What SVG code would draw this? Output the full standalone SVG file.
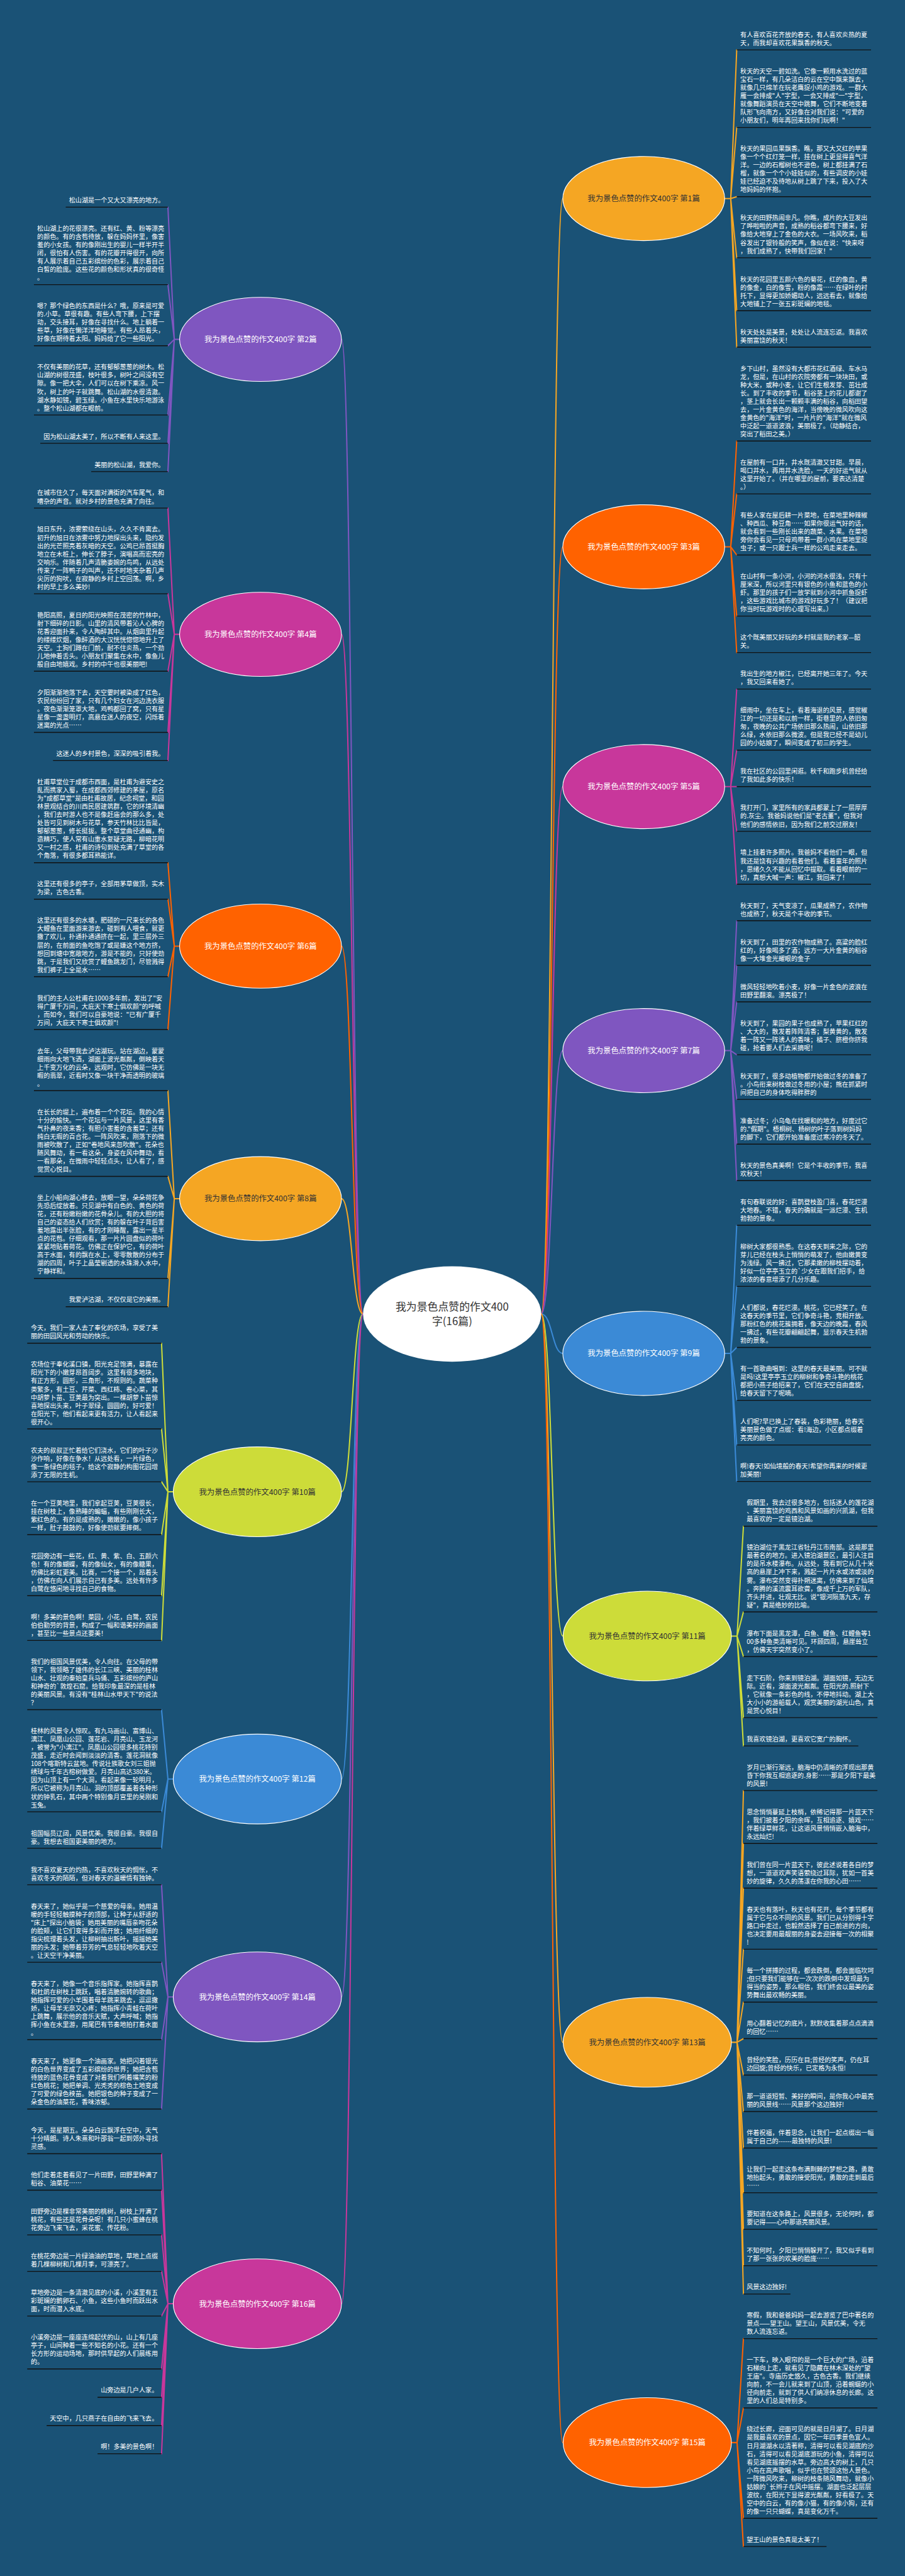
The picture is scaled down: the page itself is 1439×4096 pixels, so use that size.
<svg xmlns="http://www.w3.org/2000/svg" width="1439" height="4096" viewBox="0 0 1439 4096">
<style>
.t{font-family:"Noto Sans CJK SC","Noto Sans",sans-serif;font-size:18px;fill:#fff}
.r{text-anchor:end}
.u{stroke:#111;stroke-width:2.5}
.lb{font-family:"Noto Sans CJK SC","Noto Sans",sans-serif;font-size:22px;text-anchor:middle}
.w{fill:#fff}.d{fill:#333}
.c{fill:none;stroke-width:3.6;stroke-linecap:round;stroke-linejoin:round}
.am{stroke:#F5A623}.or{stroke:#FF6200}.mg{stroke:#C8379B}.pu{stroke:#7F56C0}.bl{stroke:#3B8AD6}.li{stroke:#CDDC39}
.fam{fill:#F5A623}.for{fill:#FF6200}.fmg{fill:#C8379B}.fpu{fill:#7F56C0}.fbl{fill:#3B8AD6}.fli{fill:#CDDC39}
.e{stroke:#fff;stroke-width:2}
</style>
<rect width="1439" height="4096" fill="#1a5276"/>
<g transform="scale(0.5621)">
<g id="connectors">
<path class="c am" d="M1531 3717C1562 3717 1562 561.6 1592 561.6"/>
<path class="c or" d="M1531 3717C1562 3717 1562 1546.8 1592 1546.8"/>
<path class="c mg" d="M1531 3717C1562 3717 1562 2225.2 1592 2225.2"/>
<path class="c pu" d="M1531 3717C1562 3717 1562 2972 1592 2972"/>
<path class="c bl" d="M1531 3717C1562 3717 1562 3828.4 1592 3828.4"/>
<path class="c li" d="M1531 3717C1562 3717 1562 4628 1592 4628"/>
<path class="c am" d="M1531 3717C1562 3717 1562 5777.2 1592 5777.2"/>
<path class="c or" d="M1531 3717C1562 3717 1562 6909.6 1592 6909.6"/>
<path class="c pu" d="M1027 3717C996 3717 996 960 966 960"/>
<path class="c mg" d="M1027 3717C996 3717 996 1794.4 966 1794.4"/>
<path class="c or" d="M1027 3717C996 3717 996 2676.4 966 2676.4"/>
<path class="c am" d="M1027 3717C996 3717 996 3390.8 966 3390.8"/>
<path class="c li" d="M1027 3717C996 3717 996 4220 966 4220"/>
<path class="c bl" d="M1027 3717C996 3717 996 5032.4 966 5032.4"/>
<path class="c pu" d="M1027 3717C996 3717 996 5648.8 966 5648.8"/>
<path class="c mg" d="M1027 3717C996 3717 996 6516.8 966 6516.8"/>
<path class="c am" d="M2050 561.6H2067M2067 561.6L2084 141.2M2067 561.6L2084 360.4M2067 561.6L2084 556.4M2067 561.6L2084 729.2M2067 561.6L2084 878.8M2067 561.6L2084 982"/>
<path class="c or" d="M2050 1546.8H2067M2067 1546.8L2084 1247.6M2067 1546.8L2084 1397.2M2067 1546.8L2084 1570M2067 1546.8L2084 1742.8M2067 1546.8L2084 1846"/>
<path class="c mg" d="M2050 2225.2H2067M2067 2225.2L2084 1949.2M2067 2225.2L2084 2122M2067 2225.2L2084 2225.2M2067 2225.2L2084 2351.6M2067 2225.2L2084 2501.2"/>
<path class="c pu" d="M2050 2972H2067M2067 2972L2084 2604.4M2067 2972L2084 2730.8M2067 2972L2084 2834M2067 2972L2084 2983.6M2067 2972L2084 3110M2067 2972L2084 3236.4M2067 2972L2084 3339.6"/>
<path class="c bl" d="M2050 3828.4H2067M2067 3828.4L2084 3466M2067 3828.4L2084 3638.8M2067 3828.4L2084 3811.6M2067 3828.4L2084 3961.2M2067 3828.4L2084 4087.6M2067 3828.4L2084 4190.8"/>
<path class="c li" d="M2069 4628H2085M2085 4628L2103 4317.2M2085 4628L2103 4559.6M2085 4628L2103 4686M2085 4628L2103 4858.8M2085 4628L2103 4938.8"/>
<path class="c am" d="M2069 5777.2H2085M2085 5777.2L2103 5065.2M2085 5777.2L2103 5214.8M2085 5777.2L2103 5341.2M2085 5777.2L2103 5514M2085 5777.2L2103 5663.6M2085 5777.2L2103 5766.8M2085 5777.2L2103 5870M2085 5777.2L2103 5973.2M2085 5777.2L2103 6076.4M2085 5777.2L2103 6202.8M2085 5777.2L2103 6306M2085 5777.2L2103 6409.2M2085 5777.2L2103 6489.2"/>
<path class="c or" d="M2069 6909.6H2085M2085 6909.6L2103 6615.6M2085 6909.6L2103 6811.6M2085 6909.6L2103 7123.6M2085 6909.6L2103 7203.6"/>
<path class="c pu" d="M508 960H493M493 960L475 586M493 960L475 805.2M493 960L475 978M493 960L475 1174M493 960L475 1254M493 960L475 1334"/>
<path class="c mg" d="M508 1794.4H493M493 1794.4L475 1437.2M493 1794.4L475 1679.6M493 1794.4L475 1898.8M493 1794.4L475 2071.6M493 1794.4L475 2151.6"/>
<path class="c or" d="M508 2676.4H493M493 2676.4L475 2440.4M493 2676.4L475 2543.6M493 2676.4L475 2762.8M493 2676.4L475 2912.4"/>
<path class="c am" d="M508 3390.8H493M493 3390.8L475 3085.2M493 3390.8L475 3327.6M493 3390.8L475 3616.4M493 3390.8L475 3696.4"/>
<path class="c li" d="M490 4220H475M475 4220L457 3799.6M475 4220L457 4042M475 4220L457 4191.6M475 4220L457 4341.2M475 4220L457 4514M475 4220L457 4640.4"/>
<path class="c bl" d="M490 5032.4H475M475 5032.4L457 4836.4M475 5032.4L457 5125.2M475 5032.4L457 5228.4"/>
<path class="c pu" d="M490 5648.8H475M475 5648.8L457 5331.6M475 5648.8L457 5550.8M475 5648.8L457 5770M475 5648.8L457 5966"/>
<path class="c mg" d="M490 6516.8H475M475 6516.8L457 6092.4M475 6516.8L457 6195.6M475 6516.8L457 6322M475 6516.8L457 6425.2M475 6516.8L457 6551.6M475 6516.8L457 6701.2M475 6516.8L457 6781.2M475 6516.8L457 6861.2M475 6516.8L457 6941.2"/>
</g>

<g id="root">
<ellipse cx="1279" cy="3717" rx="252" ry="135" fill="#fff"/>
<text font-family="Noto Sans CJK SC, Noto Sans, sans-serif" font-size="30" fill="#333" text-anchor="middle"><tspan x="1279" y="3707">我为景色点赞的作文400</tspan><tspan x="1279" y="3748">字(16篇)</tspan></text>
</g>

<g id="b1"><ellipse class="e fam" cx="1821" cy="561.6" rx="229" ry="119"/><text class="lb d" x="1821" y="569.6">我为景色点赞的作文400字 第1篇</text></g>
<g id="b3"><ellipse class="e for" cx="1821" cy="1546.8" rx="229" ry="119"/><text class="lb w" x="1821" y="1554.8">我为景色点赞的作文400字 第3篇</text></g>
<g id="b5"><ellipse class="e fmg" cx="1821" cy="2225.2" rx="229" ry="119"/><text class="lb w" x="1821" y="2233.2">我为景色点赞的作文400字 第5篇</text></g>
<g id="b7"><ellipse class="e fpu" cx="1821" cy="2972" rx="229" ry="119"/><text class="lb w" x="1821" y="2980">我为景色点赞的作文400字 第7篇</text></g>
<g id="b9"><ellipse class="e fbl" cx="1821" cy="3828.4" rx="229" ry="119"/><text class="lb w" x="1821" y="3836.4">我为景色点赞的作文400字 第9篇</text></g>
<g id="b11"><ellipse class="e fli" cx="1831" cy="4628" rx="238" ry="127"/><text class="lb d" x="1831" y="4636">我为景色点赞的作文400字 第11篇</text></g>
<g id="b13"><ellipse class="e fam" cx="1831" cy="5777.2" rx="238" ry="127"/><text class="lb d" x="1831" y="5785.2">我为景色点赞的作文400字 第13篇</text></g>
<g id="b15"><ellipse class="e for" cx="1831" cy="6909.6" rx="238" ry="127"/><text class="lb w" x="1831" y="6917.6">我为景色点赞的作文400字 第15篇</text></g>
<g id="b2"><ellipse class="e fpu" cx="737" cy="960" rx="229" ry="119"/><text class="lb w" x="737" y="968">我为景色点赞的作文400字 第2篇</text></g>
<g id="b4"><ellipse class="e fmg" cx="737" cy="1794.4" rx="229" ry="119"/><text class="lb w" x="737" y="1802.4">我为景色点赞的作文400字 第4篇</text></g>
<g id="b6"><ellipse class="e for" cx="737" cy="2676.4" rx="229" ry="119"/><text class="lb w" x="737" y="2684.4">我为景色点赞的作文400字 第6篇</text></g>
<g id="b8"><ellipse class="e fam" cx="737" cy="3390.8" rx="229" ry="119"/><text class="lb d" x="737" y="3398.8">我为景色点赞的作文400字 第8篇</text></g>
<g id="b10"><ellipse class="e fli" cx="728" cy="4220" rx="238" ry="127"/><text class="lb d" x="728" y="4228">我为景色点赞的作文400字 第10篇</text></g>
<g id="b12"><ellipse class="e fbl" cx="728" cy="5032.4" rx="238" ry="127"/><text class="lb w" x="728" y="5040.4">我为景色点赞的作文400字 第12篇</text></g>
<g id="b14"><ellipse class="e fpu" cx="728" cy="5648.8" rx="238" ry="127"/><text class="lb w" x="728" y="5656.8">我为景色点赞的作文400字 第14篇</text></g>
<g id="b16"><ellipse class="e fmg" cx="728" cy="6516.8" rx="238" ry="127"/><text class="lb w" x="728" y="6524.8">我为景色点赞的作文400字 第16篇</text></g>

<g id="R1"><text class="t"><tspan x="2094" y="105">有人喜欢百花齐放的春天，有人喜欢炎热的夏</tspan><tspan x="2094" dy="23.2">天，而我却喜欢花果飘香的秋天。</tspan></text><line class="u" x1="2084" y1="141.2" x2="2464" y2="141.2"/></g>
<g id="R2"><text class="t"><tspan x="2094" y="208.2">秋天的天空一碧如洗。它像一颗用水洗过的蓝</tspan><tspan x="2094" dy="23.2">宝石一样，有几朵洁白的云在空中飘来飘去，</tspan><tspan x="2094" dy="23.2">就像几只绵羊在玩老鹰捉小鸡的游戏。一群大</tspan><tspan x="2094" dy="23.2">雁一会排成"人"字型，一会又排成"一"字型，</tspan><tspan x="2094" dy="23.2">就像舞蹈演员在天空中跳舞，它们不断地变着</tspan><tspan x="2094" dy="23.2">队形飞向南方，又好像在对我们说："可爱的</tspan><tspan x="2094" dy="23.2">小朋友们，明年再回来找你们玩啊！"</tspan></text><line class="u" x1="2084" y1="360.4" x2="2464" y2="360.4"/></g>
<g id="R3"><text class="t"><tspan x="2094" y="427.4">秋天的果园瓜果飘香。瞧，那又大又红的苹果</tspan><tspan x="2094" dy="23.2">像一个个红灯笼一样，挂在树上更显得喜气洋</tspan><tspan x="2094" dy="23.2">洋。一边的石榴树也不逊色，树上都挂满了石</tspan><tspan x="2094" dy="23.2">榴，就像一个个小娃娃似的，有些调皮的小娃</tspan><tspan x="2094" dy="23.2">娃已经迫不及待地从树上跳了下来，投入了大</tspan><tspan x="2094" dy="23.2">地妈妈的怀抱。</tspan></text><line class="u" x1="2084" y1="556.4" x2="2464" y2="556.4"/></g>
<g id="R4"><text class="t"><tspan x="2094" y="623.4">秋天的田野热闹非凡。你瞧，成片的大豆发出</tspan><tspan x="2094" dy="23.2">了哗啦啦的声音，成熟的稻谷都弯下腰来，好</tspan><tspan x="2094" dy="23.2">像给大地穿上了金色的大衣。一场风吹来，稻</tspan><tspan x="2094" dy="23.2">谷发出了银铃般的笑声，像似在说："快来呀</tspan><tspan x="2094" dy="23.2">，我们成熟了，快带我们回家！"</tspan></text><line class="u" x1="2084" y1="729.2" x2="2464" y2="729.2"/></g>
<g id="R5"><text class="t"><tspan x="2094" y="796.2">秋天的花园里五颜六色的菊花，红的像血，黄</tspan><tspan x="2094" dy="23.2">的像金，白的像雪，粉的像霞……在绿叶的衬</tspan><tspan x="2094" dy="23.2">托下，显得更加娇媚动人，远远看去，就像给</tspan><tspan x="2094" dy="23.2">大地铺上了一张五彩斑斓的地毯。</tspan></text><line class="u" x1="2084" y1="878.8" x2="2464" y2="878.8"/></g>
<g id="R6"><text class="t"><tspan x="2094" y="945.8">秋天处处是美景，处处让人流连忘返。我喜欢</tspan><tspan x="2094" dy="23.2">美丽富饶的秋天！</tspan></text><line class="u" x1="2084" y1="982" x2="2464" y2="982"/></g>
<g id="R7"><text class="t"><tspan x="2094" y="1049">乡下山村，虽然没有大都市花红酒绿、车水马</tspan><tspan x="2094" dy="23.2">龙，但是，在山村的农院旁都有一块块田，或</tspan><tspan x="2094" dy="23.2">种大米，或种小麦，让它们生根发芽、茁壮成</tspan><tspan x="2094" dy="23.2">长。到了丰收的季节，稻谷茎上的花儿都谢了</tspan><tspan x="2094" dy="23.2">，茎上就会长出一颗颗丰满的稻谷，向稻田望</tspan><tspan x="2094" dy="23.2">去，一片金黄色的海洋，当傍晚的微风吹向这</tspan><tspan x="2094" dy="23.2">金黄色的"海洋"时，一片片的"海洋"就在微风</tspan><tspan x="2094" dy="23.2">中泛起一道道波浪，美丽极了。（动静结合，</tspan><tspan x="2094" dy="23.2">突出了稻田之美。）</tspan></text><line class="u" x1="2084" y1="1247.6" x2="2464" y2="1247.6"/></g>
<g id="R8"><text class="t"><tspan x="2094" y="1314.6">在屋前有一口井，井水既清澈又甘甜。早晨，</tspan><tspan x="2094" dy="23.2">喝口井水，再用井水洗脸，一天的好运气就从</tspan><tspan x="2094" dy="23.2">这里开始了。（井在哪里的屋前，要表达清楚</tspan><tspan x="2094" dy="23.2">。）</tspan></text><line class="u" x1="2084" y1="1397.2" x2="2464" y2="1397.2"/></g>
<g id="R9"><text class="t"><tspan x="2094" y="1464.2">有些人家在屋后耕一片菜地，在菜地里种辣椒</tspan><tspan x="2094" dy="23.2">、种西瓜、种豆角……如果你很运气好的话，</tspan><tspan x="2094" dy="23.2">就会看到一些刚长出来的蔬菜、水果。在菜地</tspan><tspan x="2094" dy="23.2">旁你会看见一只母鸡带着一群小鸡在菜地里捉</tspan><tspan x="2094" dy="23.2">虫子；或一只跟士兵一样的公鸡走来走去。</tspan></text><line class="u" x1="2084" y1="1570" x2="2464" y2="1570"/></g>
<g id="R10"><text class="t"><tspan x="2094" y="1637">在山村有一条小河，小河的河水很浅，只有十</tspan><tspan x="2094" dy="23.2">厘米深，所以河里只有银色的小鱼和蓝色的小</tspan><tspan x="2094" dy="23.2">虾。那里的孩子们一放学就到小河中抓鱼捉虾</tspan><tspan x="2094" dy="23.2">，这些游戏比城市的游戏好玩多了！（建议把</tspan><tspan x="2094" dy="23.2">你当时玩游戏时的心理写出来。）</tspan></text><line class="u" x1="2084" y1="1742.8" x2="2464" y2="1742.8"/></g>
<g id="R11"><text class="t"><tspan x="2094" y="1809.8">这个既美丽又好玩的乡村就是我的老家—韶</tspan><tspan x="2094" dy="23.2">关。</tspan></text><line class="u" x1="2084" y1="1846" x2="2464" y2="1846"/></g>
<g id="R12"><text class="t"><tspan x="2094" y="1913">我出生的地方椒江，已经离开她三年了。今天</tspan><tspan x="2094" dy="23.2">，我又回来看她了。</tspan></text><line class="u" x1="2084" y1="1949.2" x2="2464" y2="1949.2"/></g>
<g id="R13"><text class="t"><tspan x="2094" y="2016.2">细雨中，坐在车上，看着海退的风景，感觉椒</tspan><tspan x="2094" dy="23.2">江的一切还是和以前一样，街巷里的人依旧匆</tspan><tspan x="2094" dy="23.2">匆，夜晚的公共广场依旧那么热闹，山依旧那</tspan><tspan x="2094" dy="23.2">么绿，水依旧那么微波。但是我已经不是幼儿</tspan><tspan x="2094" dy="23.2">园的小姑娘了，瞬间变成了初三的学生。</tspan></text><line class="u" x1="2084" y1="2122" x2="2464" y2="2122"/></g>
<g id="R14"><text class="t"><tspan x="2094" y="2189">我在社区的公园里闲逛。秋千和跑步机曾经给</tspan><tspan x="2094" dy="23.2">了我如此多的快乐！</tspan></text><line class="u" x1="2084" y1="2225.2" x2="2464" y2="2225.2"/></g>
<g id="R15"><text class="t"><tspan x="2094" y="2292.2">我打开门，家里所有的家具都蒙上了一层厚厚</tspan><tspan x="2094" dy="23.2">的.灰尘。我爸妈说他们是"老古董"，但我对</tspan><tspan x="2094" dy="23.2">他们的感情依旧，因为我们之前交过朋友！</tspan></text><line class="u" x1="2084" y1="2351.6" x2="2464" y2="2351.6"/></g>
<g id="R16"><text class="t"><tspan x="2094" y="2418.6">墙上挂着许多照片。我爸妈不看他们一眼，但</tspan><tspan x="2094" dy="23.2">我还是饶有兴趣的看着他们。看着童年的照片</tspan><tspan x="2094" dy="23.2">，思绪久久不能从回忆中提取。看着眼前的一</tspan><tspan x="2094" dy="23.2">切，真想大喊一声：椒江，我回来了！</tspan></text><line class="u" x1="2084" y1="2501.2" x2="2464" y2="2501.2"/></g>
<g id="R17"><text class="t"><tspan x="2094" y="2568.2">秋天到了，天气变凉了，瓜果成熟了，农作物</tspan><tspan x="2094" dy="23.2">也成熟了，秋天是个丰收的季节。</tspan></text><line class="u" x1="2084" y1="2604.4" x2="2464" y2="2604.4"/></g>
<g id="R18"><text class="t"><tspan x="2094" y="2671.4">秋天到了，田里的农作物成熟了。高粱的脸红</tspan><tspan x="2094" dy="23.2">红的，好像喝多了酒；远方一大片金黄的稻谷</tspan><tspan x="2094" dy="23.2">像一大堆金光耀眼的金子</tspan></text><line class="u" x1="2084" y1="2730.8" x2="2464" y2="2730.8"/></g>
<g id="R19"><text class="t"><tspan x="2094" y="2797.8">微风轻轻地吹着小麦，好像一片金色的波浪在</tspan><tspan x="2094" dy="23.2">田野里翻滚。漂亮极了！</tspan></text><line class="u" x1="2084" y1="2834" x2="2464" y2="2834"/></g>
<g id="R20"><text class="t"><tspan x="2094" y="2901">秋天到了，果园的果子也成熟了，苹果红红的</tspan><tspan x="2094" dy="23.2">、大大的，散发着阵阵清香；梨黄黄的，散发</tspan><tspan x="2094" dy="23.2">着一阵又一阵诱人的香味；橘子、脐橙你挤我</tspan><tspan x="2094" dy="23.2">碰，抢着要人们去采摘呢！</tspan></text><line class="u" x1="2084" y1="2983.6" x2="2464" y2="2983.6"/></g>
<g id="R21"><text class="t"><tspan x="2094" y="3050.6">秋天到了，很多动植物都开始做过冬的准备了</tspan><tspan x="2094" dy="23.2">。小鸟衔来树枝做过冬用的小屋；熊在抓紧时</tspan><tspan x="2094" dy="23.2">间把自己的身体吃得胖胖的</tspan></text><line class="u" x1="2084" y1="3110" x2="2464" y2="3110"/></g>
<g id="R22"><text class="t"><tspan x="2094" y="3177">准备过冬；小乌龟在找暖和的地方，好度过它</tspan><tspan x="2094" dy="23.2">的."假期"。梧桐树、杨树的叶子落到树妈妈</tspan><tspan x="2094" dy="23.2">的脚下，它们都开始准备度过寒冷的冬天了。</tspan></text><line class="u" x1="2084" y1="3236.4" x2="2464" y2="3236.4"/></g>
<g id="R23"><text class="t"><tspan x="2094" y="3303.4">秋天的景色真美啊！它是个丰收的季节，我喜</tspan><tspan x="2094" dy="23.2">欢秋天！</tspan></text><line class="u" x1="2084" y1="3339.6" x2="2464" y2="3339.6"/></g>
<g id="R24"><text class="t"><tspan x="2094" y="3406.6">有句春联说的好：喜鹊登枝盈门喜，春花烂漫</tspan><tspan x="2094" dy="23.2">大地春。不错，春天的确就是一派烂漫、生机</tspan><tspan x="2094" dy="23.2">勃勃的景象。</tspan></text><line class="u" x1="2084" y1="3466" x2="2464" y2="3466"/></g>
<g id="R25"><text class="t"><tspan x="2094" y="3533">柳树大家都很熟悉。在这春天到来之际，它的</tspan><tspan x="2094" dy="23.2">芽儿已经在枝头上悄悄的萌发了，他由嫩黄变</tspan><tspan x="2094" dy="23.2">为浅绿。风一拂过，它那柔嫩的柳枝摆动着，</tspan><tspan x="2094" dy="23.2">好似一位亭亭玉立的`少女在跟我们招手，给</tspan><tspan x="2094" dy="23.2">浓浓的春意增添了几分乐趣。</tspan></text><line class="u" x1="2084" y1="3638.8" x2="2464" y2="3638.8"/></g>
<g id="R26"><text class="t"><tspan x="2094" y="3705.8">人们都说，春花烂漫。桃花，它已经笑了。在</tspan><tspan x="2094" dy="23.2">这春天的季节里，它们争奇斗艳，竞相开放。</tspan><tspan x="2094" dy="23.2">那粉红色的桃花簇拥着，像天边的晚霞，春风</tspan><tspan x="2094" dy="23.2">一拂过，有些花瓣翩翩起舞，显示春天生机勃</tspan><tspan x="2094" dy="23.2">勃的景象。</tspan></text><line class="u" x1="2084" y1="3811.6" x2="2464" y2="3811.6"/></g>
<g id="R27"><text class="t"><tspan x="2094" y="3878.6">有一首歌曲唱到：这里的春天最美丽。可不就</tspan><tspan x="2094" dy="23.2">是吗!这里亭亭玉立的柳树和争奇斗艳的桃花</tspan><tspan x="2094" dy="23.2">都把小燕子给招来了，它们在天空自由盘旋，</tspan><tspan x="2094" dy="23.2">给春天留下了呢喃。</tspan></text><line class="u" x1="2084" y1="3961.2" x2="2464" y2="3961.2"/></g>
<g id="R28"><text class="t"><tspan x="2094" y="4028.2">人们呢?早已换上了春装，色彩艳丽，给春天</tspan><tspan x="2094" dy="23.2">美丽景色做了点缀：看!海边，小区都点缀着</tspan><tspan x="2094" dy="23.2">亮亮的颜色。</tspan></text><line class="u" x1="2084" y1="4087.6" x2="2464" y2="4087.6"/></g>
<g id="R29"><text class="t"><tspan x="2094" y="4154.6">啊!春天!如仙境般的春天!希望你再来的时候更</tspan><tspan x="2094" dy="23.2">加美丽!</tspan></text><line class="u" x1="2084" y1="4190.8" x2="2464" y2="4190.8"/></g>
<g id="R30"><text class="t"><tspan x="2112" y="4257.8">假期里，我去过很多地方，包括迷人的莲花湖</tspan><tspan x="2112" dy="23.2">、美丽富饶的鸡西和风景如画的兴凯湖，但我</tspan><tspan x="2112" dy="23.2">最喜欢的一定是镜泊湖。</tspan></text><line class="u" x1="2103" y1="4317.2" x2="2482" y2="4317.2"/></g>
<g id="R31"><text class="t"><tspan x="2112" y="4384.2">镜泊湖位于黑龙江省牡丹江市南部。这是那里</tspan><tspan x="2112" dy="23.2">最著名的地方。进入镜泊湖景区，最引人注目</tspan><tspan x="2112" dy="23.2">的是吊水楼瀑布。从远处，我看到它从几十米</tspan><tspan x="2112" dy="23.2">高的悬崖上冲下来，溅起一片片水或浓或淡的</tspan><tspan x="2112" dy="23.2">雾。瀑布突然变得扑朔迷离，仿佛来到了仙境</tspan><tspan x="2112" dy="23.2">。奔腾的溪流震耳欲聋，像成千上万的军队，</tspan><tspan x="2112" dy="23.2">齐头并进，壮观无比。说"银河陨落九天，存</tspan><tspan x="2112" dy="23.2">疑"，真是绝妙的比喻。</tspan></text><line class="u" x1="2103" y1="4559.6" x2="2482" y2="4559.6"/></g>
<g id="R32"><text class="t"><tspan x="2112" y="4626.6">瀑布下面是黑龙潭，白鱼、鲤鱼、红鲤鱼等1</tspan><tspan x="2112" dy="23.2">00多种鱼类清晰可见。环顾四周，悬崖耸立</tspan><tspan x="2112" dy="23.2">，仿佛天宇突然变小了。</tspan></text><line class="u" x1="2103" y1="4686" x2="2482" y2="4686"/></g>
<g id="R33"><text class="t"><tspan x="2112" y="4753">走下石阶，你来到镜泊湖。湖面如镜，无边无</tspan><tspan x="2112" dy="23.2">际。近看，湖面波光粼粼。在阳光的.照射下</tspan><tspan x="2112" dy="23.2">，它就像一条彩色的线，不停地抖动。湖上大</tspan><tspan x="2112" dy="23.2">大小小的游船载人，观赏美丽的湖光山色，真</tspan><tspan x="2112" dy="23.2">是赏心悦目！</tspan></text><line class="u" x1="2103" y1="4858.8" x2="2482" y2="4858.8"/></g>
<g id="R34"><text class="t" x="2112" y="4925.8">我喜欢镜泊湖，更喜欢它宽广的胸怀。</text><line class="u" x1="2103" y1="4938.8" x2="2428" y2="4938.8"/></g>
<g id="R35"><text class="t"><tspan x="2112" y="5005.8">岁月已渐行渐远，脑海中仍清晰的浮现出那黄</tspan><tspan x="2112" dy="23.2">昏下你我互相追逐的.身影……那是夕阳下最美</tspan><tspan x="2112" dy="23.2">的风景!</tspan></text><line class="u" x1="2103" y1="5065.2" x2="2482" y2="5065.2"/></g>
<g id="R36"><text class="t"><tspan x="2112" y="5132.2">思念悄悄蔓延上枝梢，依稀记得那一片蓝天下</tspan><tspan x="2112" dy="23.2">，我们披着夕阳的余晖，互相追逐、嬉戏……</tspan><tspan x="2112" dy="23.2">伴着绿草鲜花，让这道风景悄悄嵌入脑海中，</tspan><tspan x="2112" dy="23.2">永远灿烂!</tspan></text><line class="u" x1="2103" y1="5214.8" x2="2482" y2="5214.8"/></g>
<g id="R37"><text class="t"><tspan x="2112" y="5281.8">我们曾在同一片蓝天下，彼此述说着各自的梦</tspan><tspan x="2112" dy="23.2">想，一道道欢声笑语萦绕过耳际，犹如一首美</tspan><tspan x="2112" dy="23.2">妙的旋律，久久的荡漾在你我的心田……</tspan></text><line class="u" x1="2103" y1="5341.2" x2="2482" y2="5341.2"/></g>
<g id="R38"><text class="t"><tspan x="2112" y="5408.2">春天也有落叶，秋天也有花开，每个季节都有</tspan><tspan x="2112" dy="23.2">属于它与众不同的风景。我们已从分别得十字</tspan><tspan x="2112" dy="23.2">路口中走过，也毅然选择了自己前进的方向，</tspan><tspan x="2112" dy="23.2">也决定要用最靓丽的身姿去迎接每一次的相聚</tspan><tspan x="2112" dy="23.2">!</tspan></text><line class="u" x1="2103" y1="5514" x2="2482" y2="5514"/></g>
<g id="R39"><text class="t"><tspan x="2112" y="5581">每一个拼搏的过程，都会跌倒，都会面临坎坷</tspan><tspan x="2112" dy="23.2">;但只要我们能够在一次次的跌倒中发现最为</tspan><tspan x="2112" dy="23.2">得当的姿势，那么相信，我们终会以最美的姿</tspan><tspan x="2112" dy="23.2">势舞出最欢畅的美丽。</tspan></text><line class="u" x1="2103" y1="5663.6" x2="2482" y2="5663.6"/></g>
<g id="R40"><text class="t"><tspan x="2112" y="5730.6">用心翻着记忆的底片，默默收集着那点点滴滴</tspan><tspan x="2112" dy="23.2">的回忆……</tspan></text><line class="u" x1="2103" y1="5766.8" x2="2482" y2="5766.8"/></g>
<g id="R41"><text class="t"><tspan x="2112" y="5833.8">曾经的笑脸，历历在目;曾经的笑声，仍在耳</tspan><tspan x="2112" dy="23.2">边回旋;曾经的快乐，已定格为永恒!</tspan></text><line class="u" x1="2103" y1="5870" x2="2482" y2="5870"/></g>
<g id="R42"><text class="t"><tspan x="2112" y="5937">那一道道短暂、美好的瞬间，是你我心中最亮</tspan><tspan x="2112" dy="23.2">丽的风景线……风景那个这边独好!</tspan></text><line class="u" x1="2103" y1="5973.2" x2="2482" y2="5973.2"/></g>
<g id="R43"><text class="t"><tspan x="2112" y="6040.2">伴着祝福，伴着思念，让我们一起点缀出一幅</tspan><tspan x="2112" dy="23.2">属于自己的------最独特的风景!</tspan></text><line class="u" x1="2103" y1="6076.4" x2="2482" y2="6076.4"/></g>
<g id="R44"><text class="t"><tspan x="2112" y="6143.4">让我们一起走这条布满荆棘的梦想之路，勇敢</tspan><tspan x="2112" dy="23.2">地抬起头，勇敢的接受阳光，勇敢的走到最后</tspan><tspan x="2112" dy="23.2">……</tspan></text><line class="u" x1="2103" y1="6202.8" x2="2482" y2="6202.8"/></g>
<g id="R45"><text class="t"><tspan x="2112" y="6269.8">要知道在这条路上，风景很多，无论何时，都</tspan><tspan x="2112" dy="23.2">要记得——心中那道亮丽风景。</tspan></text><line class="u" x1="2103" y1="6306" x2="2482" y2="6306"/></g>
<g id="R46"><text class="t"><tspan x="2112" y="6373">不知何时，夕阳已悄悄躲开了，我又似乎看到</tspan><tspan x="2112" dy="23.2">了那一张张的欢美的脸庞……</tspan></text><line class="u" x1="2103" y1="6409.2" x2="2482" y2="6409.2"/></g>
<g id="R47"><text class="t" x="2112" y="6476.2">风景这边独好!</text><line class="u" x1="2103" y1="6489.2" x2="2236" y2="6489.2"/></g>
<g id="R48"><text class="t"><tspan x="2112" y="6556.2">寒假，我和爸爸妈妈一起去游览了巴中著名的</tspan><tspan x="2112" dy="23.2">景点——望王山。望王山，风景优美，令无</tspan><tspan x="2112" dy="23.2">数人流连忘返。</tspan></text><line class="u" x1="2103" y1="6615.6" x2="2482" y2="6615.6"/></g>
<g id="R49"><text class="t"><tspan x="2112" y="6682.6">一下车，映入眼帘的是一个巨大的广场，沿着</tspan><tspan x="2112" dy="23.2">石梯向上走，就看见了隐藏在林木深处的"望</tspan><tspan x="2112" dy="23.2">王庙"。寺庙历史悠久，古色古香。我们继续</tspan><tspan x="2112" dy="23.2">向前，不一会儿就来到了山顶，沿着蜿蜒的小</tspan><tspan x="2112" dy="23.2">径向前走，就到了供人们纳凉休息的长廊。这</tspan><tspan x="2112" dy="23.2">里的人们总是特别多。</tspan></text><line class="u" x1="2103" y1="6811.6" x2="2482" y2="6811.6"/></g>
<g id="R50"><text class="t"><tspan x="2112" y="6878.6">绕过长廊，迎面可见的就是日月湖了。日月湖</tspan><tspan x="2112" dy="23.2">是我最喜欢的景点，因它一年四季景色宜人。</tspan><tspan x="2112" dy="23.2">日月湖湖水以清著称，清得可以看见湖底的沙</tspan><tspan x="2112" dy="23.2">石，清得可以看见湖底游玩的小鱼，清得可以</tspan><tspan x="2112" dy="23.2">看见湖底摇摆的水草。旁边高大的树上，几只</tspan><tspan x="2112" dy="23.2">小鸟在高声歌唱，似乎也在赞颂这怡人景色。</tspan><tspan x="2112" dy="23.2">一阵微风吹来，柳树的枝条随风舞动，就像小</tspan><tspan x="2112" dy="23.2">姑娘的`长辫子在风中摇摆。湖面也泛起层层</tspan><tspan x="2112" dy="23.2">波纹，在阳光下显得波光粼粼，好看极了。天</tspan><tspan x="2112" dy="23.2">空中的白云，有的像小猫，有的像小狗，还有</tspan><tspan x="2112" dy="23.2">的像一只只蝴蝶，真是变化万千。</tspan></text><line class="u" x1="2103" y1="7123.6" x2="2482" y2="7123.6"/></g>
<g id="R51"><text class="t" x="2112" y="7190.6">望王山的景色真是太美了！</text><line class="u" x1="2103" y1="7203.6" x2="2338" y2="7203.6"/></g>

<g id="L1"><text class="t r" x="465" y="573">松山湖是一个又大又漂亮的地方。</text><line class="u" x1="186" y1="586" x2="475" y2="586"/></g>
<g id="L2"><text class="t"><tspan x="105" y="653">松山湖上的花很漂亮。还有红、黄、粉等漂亮</tspan><tspan x="105" dy="23.2">的颜色。有的含苞待放，躲在妈妈怀里，像害</tspan><tspan x="105" dy="23.2">羞的小女孩。有的像刚出生的婴儿一样半开半</tspan><tspan x="105" dy="23.2">闭，很怕有人伤害。有的花瓣开得很开，向所</tspan><tspan x="105" dy="23.2">有人展示着自己五彩缤纷的色彩，展示着自己</tspan><tspan x="105" dy="23.2">白皙的脸庞。这些花的颜色和形状真的很奇怪</tspan><tspan x="105" dy="23.2">。</tspan></text><line class="u" x1="96" y1="805.2" x2="475" y2="805.2"/></g>
<g id="L3"><text class="t"><tspan x="105" y="872.2">嗯？那个绿色的东西是什么？哦，原来是可爱</tspan><tspan x="105" dy="23.2">的.小草。草很有趣。有些人弯下腰，上下摆</tspan><tspan x="105" dy="23.2">动，交头接耳，好像在寻找什么。地上躺着一</tspan><tspan x="105" dy="23.2">些草，好像在懒洋洋地睡觉。有些人昂着头，</tspan><tspan x="105" dy="23.2">好像在期待着太阳。妈妈给了它一些阳光。</tspan></text><line class="u" x1="96" y1="978" x2="475" y2="978"/></g>
<g id="L4"><text class="t"><tspan x="105" y="1045">不仅有美丽的花草，还有郁郁葱葱的树木。松</tspan><tspan x="105" dy="23.2">山湖的树很茂盛，枝叶很多，树叶之间没有空</tspan><tspan x="105" dy="23.2">隙。像一把大伞，人们可以在树下乘凉。风一</tspan><tspan x="105" dy="23.2">吹，树上的叶子就跳舞。松山湖的水很清澈。</tspan><tspan x="105" dy="23.2">湖水静如镜，碧玉绿。小鱼在水里快乐地游泳</tspan><tspan x="105" dy="23.2">。整个松山湖都在眼前。</tspan></text><line class="u" x1="96" y1="1174" x2="475" y2="1174"/></g>
<g id="L5"><text class="t r" x="465" y="1241">因为松山湖太美了，所以不断有人来这里。</text><line class="u" x1="114" y1="1254" x2="475" y2="1254"/></g>
<g id="L6"><text class="t r" x="465" y="1321">美丽的松山湖，我爱你。</text><line class="u" x1="258" y1="1334" x2="475" y2="1334"/></g>
<g id="L7"><text class="t"><tspan x="105" y="1401">在城市住久了，每天面对满街的汽车尾气，和</tspan><tspan x="105" dy="23.2">嘈杂的声音。就对乡村的景色充满了向往。</tspan></text><line class="u" x1="96" y1="1437.2" x2="475" y2="1437.2"/></g>
<g id="L8"><text class="t"><tspan x="105" y="1504.2">旭日东升，浓雾萦绕在山头，久久不肯离去。</tspan><tspan x="105" dy="23.2">初升的旭日在浓雾中努力地探出头来，隐约发</tspan><tspan x="105" dy="23.2">出的光芒照亮着灰暗的天空。公鸡已昂首挺胸</tspan><tspan x="105" dy="23.2">地立在木桩上，伸长了脖子，演唱高而宏亮的</tspan><tspan x="105" dy="23.2">交响乐。伴随着几声清脆委婉的鸟鸣，从远处</tspan><tspan x="105" dy="23.2">传来了一阵鸭子的叫声，还不时地夹杂着几声</tspan><tspan x="105" dy="23.2">尖厉的狗吠，在寂静的乡村上空回荡。啊，乡</tspan><tspan x="105" dy="23.2">村的早上多么美妙!</tspan></text><line class="u" x1="96" y1="1679.6" x2="475" y2="1679.6"/></g>
<g id="L9"><text class="t"><tspan x="105" y="1746.6">艳阳高照，夏日的阳光映照在茂密的竹林中，</tspan><tspan x="105" dy="23.2">射下细碎的日影。山里的清风带着沁人心脾的</tspan><tspan x="105" dy="23.2">花香迎面扑来，令人陶醉其中。从烟囱里升起</tspan><tspan x="105" dy="23.2">的缕缕炊烟，像醉酒的大汉恍恍惚惚地升上了</tspan><tspan x="105" dy="23.2">天空。土狗们蹲在门前，耐不住炎热，一个劲</tspan><tspan x="105" dy="23.2">儿地伸着舌头。小朋友们聚集在水中，像鱼儿</tspan><tspan x="105" dy="23.2">般自由地嬉戏。乡村的中午也很美丽吧!</tspan></text><line class="u" x1="96" y1="1898.8" x2="475" y2="1898.8"/></g>
<g id="L10"><text class="t"><tspan x="105" y="1965.8">夕阳渐渐地落下去，天空霎时被染成了红色，</tspan><tspan x="105" dy="23.2">农民纷纷回了家，只有几个妇女在河边洗衣服</tspan><tspan x="105" dy="23.2">。夜色渐渐笼罩大地，鸡鸭都回了窝，只有星</tspan><tspan x="105" dy="23.2">星像一盏盏明灯，高悬在迷人的夜空，闪烁着</tspan><tspan x="105" dy="23.2">迷离的光点……</tspan></text><line class="u" x1="96" y1="2071.6" x2="475" y2="2071.6"/></g>
<g id="L11"><text class="t r" x="465" y="2138.6">这迷人的乡村景色，深深的吸引着我。</text><line class="u" x1="150" y1="2151.6" x2="475" y2="2151.6"/></g>
<g id="L12"><text class="t"><tspan x="105" y="2218.6">杜甫草堂位于成都市西面，是杜甫为避安史之</tspan><tspan x="105" dy="23.2">乱而携家入蜀，在成都西郊修建的茅屋，原名</tspan><tspan x="105" dy="23.2">为"成都草堂"是由杜甫故居，纪念祠堂，和园</tspan><tspan x="105" dy="23.2">林景观结合的川西民居建筑群，它的环境清幽</tspan><tspan x="105" dy="23.2">，我们去时游人也不是像赶庙会的那么多，处</tspan><tspan x="105" dy="23.2">处皆可见到树木与花草，参天竹林比比皆是，</tspan><tspan x="105" dy="23.2">郁郁葱葱，修长挺拔。整个草堂曲径通幽，构</tspan><tspan x="105" dy="23.2">造精巧，使人常有山重水复疑无路，柳暗花明</tspan><tspan x="105" dy="23.2">又一村之感，杜甫的诗句到处充满了草堂的各</tspan><tspan x="105" dy="23.2">个角落，有很多都耳熟能详。</tspan></text><line class="u" x1="96" y1="2440.4" x2="475" y2="2440.4"/></g>
<g id="L13"><text class="t"><tspan x="105" y="2507.4">这里还有很多的亭子，全部用茅草做顶，实木</tspan><tspan x="105" dy="23.2">为梁，古色古香。</tspan></text><line class="u" x1="96" y1="2543.6" x2="475" y2="2543.6"/></g>
<g id="L14"><text class="t"><tspan x="105" y="2610.6">这里还有很多的水塘，肥硕的一尺来长的各色</tspan><tspan x="105" dy="23.2">大鲤鱼在里面游来游去，碰到有人喂食，就更</tspan><tspan x="105" dy="23.2">撒了欢儿，扑通扑通通挤在一起，里三层外三</tspan><tspan x="105" dy="23.2">层的，在前面的鱼吃饱了或是嫌这个地方挤，</tspan><tspan x="105" dy="23.2">想回到塘中宽敞地方，游是不能的，只好使劲</tspan><tspan x="105" dy="23.2">跳，于是我们又欣赏了鲤鱼跳龙门，尽管溅得</tspan><tspan x="105" dy="23.2">我们裤子上全是水……</tspan></text><line class="u" x1="96" y1="2762.8" x2="475" y2="2762.8"/></g>
<g id="L15"><text class="t"><tspan x="105" y="2829.8">我们的主人公杜甫在1000多年前，发出了"安</tspan><tspan x="105" dy="23.2">得广厦千万间，大庇天下寒士俱欢颜"的呼喊</tspan><tspan x="105" dy="23.2">，而如今，我们可以自豪地说："已有广厦千</tspan><tspan x="105" dy="23.2">万间，大庇天下寒士俱欢颜"!</tspan></text><line class="u" x1="96" y1="2912.4" x2="475" y2="2912.4"/></g>
<g id="L16"><text class="t"><tspan x="105" y="2979.4">去年，父母带我去泸沽湖玩。站在湖边，蒙蒙</tspan><tspan x="105" dy="23.2">细雨向大地飞洒，湖面上波光粼粼，倒映着天</tspan><tspan x="105" dy="23.2">上千变万化的云朵，远观时，它仿佛是一块无</tspan><tspan x="105" dy="23.2">暇的翡翠，近看时又像一块干净而透明的玻璃</tspan><tspan x="105" dy="23.2">。</tspan></text><line class="u" x1="96" y1="3085.2" x2="475" y2="3085.2"/></g>
<g id="L17"><text class="t"><tspan x="105" y="3152.2">在长长的堤上，遍布着一个个花坛。我的心情</tspan><tspan x="105" dy="23.2">十分的愉快。一个花坛与一片风景，这里有香</tspan><tspan x="105" dy="23.2">气扑鼻的夜来香；有胆小害羞的含羞草；还有</tspan><tspan x="105" dy="23.2">纯白无瑕的百合花。一阵风吹来，刚落下的微</tspan><tspan x="105" dy="23.2">雨被吹散了，正如"卷地风来忽吹散"。花朵也</tspan><tspan x="105" dy="23.2">随风舞动，看一看这朵，身姿在风中舞动，看</tspan><tspan x="105" dy="23.2">一看那朵，在微雨中轻轻点头，让人看了，感</tspan><tspan x="105" dy="23.2">觉赏心悦目。</tspan></text><line class="u" x1="96" y1="3327.6" x2="475" y2="3327.6"/></g>
<g id="L18"><text class="t"><tspan x="105" y="3394.6">坐上小船向湖心移去，放眼一望，朵朵荷花争</tspan><tspan x="105" dy="23.2">先恐后绽放着。只见湖中有白色的、黄色的荷</tspan><tspan x="105" dy="23.2">花，还有粉嫩粉嫩的花骨朵儿。有的大胆的将</tspan><tspan x="105" dy="23.2">自己的姿态给人们欣赏；有的躲在叶子背后害</tspan><tspan x="105" dy="23.2">羞地露出半张脸，有的才刚睡醒，露出一星半</tspan><tspan x="105" dy="23.2">点的花苞。仔细观看，那一片片圆盘似的荷叶</tspan><tspan x="105" dy="23.2">紧紧地贴着荷花。仿佛正在保护它，有的荷叶</tspan><tspan x="105" dy="23.2">高于水面，有的飘在水上，零零散散的分布于</tspan><tspan x="105" dy="23.2">湖的四周，叶子上晶莹剔透的水珠滑入水中，</tspan><tspan x="105" dy="23.2">宁静祥和。</tspan></text><line class="u" x1="96" y1="3616.4" x2="475" y2="3616.4"/></g>
<g id="L19"><text class="t r" x="465" y="3683.4">我爱泸沽湖，不仅仅是它的美丽。</text><line class="u" x1="186" y1="3696.4" x2="475" y2="3696.4"/></g>
<g id="L20"><text class="t"><tspan x="87" y="3763.4">今天，我们一家人去了奉化的农场，享受了美</tspan><tspan x="87" dy="23.2">丽的田园风光和劳动的快乐。</tspan></text><line class="u" x1="77" y1="3799.6" x2="457" y2="3799.6"/></g>
<g id="L21"><text class="t"><tspan x="87" y="3866.6">农场位于奉化溪口镇，阳光充足饱满，暴露在</tspan><tspan x="87" dy="23.2">阳光下的小嫩芽昂首阔步。这里有很多地块，</tspan><tspan x="87" dy="23.2">有正方形，圆形，三角形，不规则的。蔬菜种</tspan><tspan x="87" dy="23.2">类繁多，有土豆、芹菜、西红柿、卷心菜，其</tspan><tspan x="87" dy="23.2">中胡萝卜苗、豆荚最为突出。一棵胡萝卜苗惊</tspan><tspan x="87" dy="23.2">喜地探出头来，叶子翠绿，圆圆的，好可爱！</tspan><tspan x="87" dy="23.2">在阳光下，他们看起来更有活力，让人看起来</tspan><tspan x="87" dy="23.2">很开心。</tspan></text><line class="u" x1="77" y1="4042" x2="457" y2="4042"/></g>
<g id="L22"><text class="t"><tspan x="87" y="4109">农夫的叔叔正忙着给它们浇水，它们的叶子沙</tspan><tspan x="87" dy="23.2">沙作响，好像在争水！从远处看，一片绿色，</tspan><tspan x="87" dy="23.2">像一条绿色的毯子，给这个寂静的构图花园增</tspan><tspan x="87" dy="23.2">添了无限的生机。</tspan></text><line class="u" x1="77" y1="4191.6" x2="457" y2="4191.6"/></g>
<g id="L23"><text class="t"><tspan x="87" y="4258.6">在一个豆荚地里，我们拿起豆荚，豆荚很长，</tspan><tspan x="87" dy="23.2">挂在树枝上，像熟睡的蝙蝠，有些刚刚长大，</tspan><tspan x="87" dy="23.2">紫红色的。有的是成熟的，嫩嫩的，像小孩子</tspan><tspan x="87" dy="23.2">一样，肚子鼓鼓的，好像使劲就要摔倒。</tspan></text><line class="u" x1="77" y1="4341.2" x2="457" y2="4341.2"/></g>
<g id="L24"><text class="t"><tspan x="87" y="4408.2">花园旁边有一些花，红、黄、紫、白、五颜六</tspan><tspan x="87" dy="23.2">色！有的像蝴蝶，有的像仙女，有的像糖果，</tspan><tspan x="87" dy="23.2">仿佛比彩虹更美。比赛，一个接一个，昂着头</tspan><tspan x="87" dy="23.2">，仿佛在向人们展示自己有多美。远处有许多</tspan><tspan x="87" dy="23.2">白鹭在悠闲地寻找自己的食物。</tspan></text><line class="u" x1="77" y1="4514" x2="457" y2="4514"/></g>
<g id="L25"><text class="t"><tspan x="87" y="4581">啊！多美的景色啊！菜园，小花，白鹭，农民</tspan><tspan x="87" dy="23.2">伯伯勤劳的背景，构成了一幅和谐美好的画面</tspan><tspan x="87" dy="23.2">，甚至比一些景点还要美！</tspan></text><line class="u" x1="77" y1="4640.4" x2="457" y2="4640.4"/></g>
<g id="L26"><text class="t"><tspan x="87" y="4707.4">我们的祖国风景优美，令人向往。在父母的带</tspan><tspan x="87" dy="23.2">领下，我领略了雄伟的长江三峡、美丽的桂林</tspan><tspan x="87" dy="23.2">山水、壮观的秦始皇兵马俑、五彩缤纷的庐山</tspan><tspan x="87" dy="23.2">和神奇的`敦煌石窟。给我印象最深的是桂林</tspan><tspan x="87" dy="23.2">的美丽风景。有没有"桂林山水甲天下"的说法</tspan><tspan x="87" dy="23.2">？</tspan></text><line class="u" x1="77" y1="4836.4" x2="457" y2="4836.4"/></g>
<g id="L27"><text class="t"><tspan x="87" y="4903.4">桂林的风景令人惊叹。有九马画山、富博山、</tspan><tspan x="87" dy="23.2">漓江、凤凰山公园、莲花岩、月亮山、玉龙河</tspan><tspan x="87" dy="23.2">，被誉为"小漓江"。凤凰山公园很多桃花特别</tspan><tspan x="87" dy="23.2">茂盛，走近时会闻到淡淡的清香。莲花洞就像</tspan><tspan x="87" dy="23.2">108个喀斯特云盆地。传说壮族歌女刘三姐抛</tspan><tspan x="87" dy="23.2">绣球与千年古榕树做爱。月亮山高达380米。</tspan><tspan x="87" dy="23.2">因为山顶上有一个大洞，看起来像一轮明月，</tspan><tspan x="87" dy="23.2">所以它被称为月亮山。洞的顶部覆盖着各种形</tspan><tspan x="87" dy="23.2">状的钟乳石，其中两个特别像月宫里的吴刚和</tspan><tspan x="87" dy="23.2">玉兔。</tspan></text><line class="u" x1="77" y1="5125.2" x2="457" y2="5125.2"/></g>
<g id="L28"><text class="t"><tspan x="87" y="5192.2">祖国幅员辽阔，风景优美。我很自豪。我很自</tspan><tspan x="87" dy="23.2">豪。我想去祖国更美丽的地方。</tspan></text><line class="u" x1="77" y1="5228.4" x2="457" y2="5228.4"/></g>
<g id="L29"><text class="t"><tspan x="87" y="5295.4">我不喜欢夏天的灼热，不喜欢秋天的惆怅，不</tspan><tspan x="87" dy="23.2">喜欢冬天的陌陌，但对春天的温暖情有独钟。</tspan></text><line class="u" x1="77" y1="5331.6" x2="457" y2="5331.6"/></g>
<g id="L30"><text class="t"><tspan x="87" y="5398.6">春天来了，她似乎是一个慈爱的母亲。她用温</tspan><tspan x="87" dy="23.2">暖的手轻轻触摸种子的顶部，让种子从舒适的</tspan><tspan x="87" dy="23.2">"床上"探出小脑袋；她用美丽的嘴唇亲吻花朵</tspan><tspan x="87" dy="23.2">的脸颊，让它们变得多彩而开放；她用纤细的</tspan><tspan x="87" dy="23.2">指尖梳理着头发，让柳树抽出新叶，摇摇她美</tspan><tspan x="87" dy="23.2">丽的头发；她带着芬芳的气息轻轻地吹着天空</tspan><tspan x="87" dy="23.2">。让天空干净美丽。</tspan></text><line class="u" x1="77" y1="5550.8" x2="457" y2="5550.8"/></g>
<g id="L31"><text class="t"><tspan x="87" y="5617.8">春天来了，她像一个音乐指挥家。她指挥喜鹊</tspan><tspan x="87" dy="23.2">和杜鹃在树枝上跳跃，唱着清脆婉转的歌曲；</tspan><tspan x="87" dy="23.2">她指挥可爱的小羊围着母羊跳来跳去，逗逗撒</tspan><tspan x="87" dy="23.2">娇，让母羊无奈又心疼；她指挥小青蛙在荷叶</tspan><tspan x="87" dy="23.2">上跳舞，展示他的音乐天赋，大声呼喊；她指</tspan><tspan x="87" dy="23.2">挥小鱼在水里游，用尾巴有节奏地拍打着水面</tspan><tspan x="87" dy="23.2">。</tspan></text><line class="u" x1="77" y1="5770" x2="457" y2="5770"/></g>
<g id="L32"><text class="t"><tspan x="87" y="5837">春天来了，她更像一个油画家。她把闪着银光</tspan><tspan x="87" dy="23.2">的白色世界变成了五彩缤纷的世界；她把含苞</tspan><tspan x="87" dy="23.2">待放的蓝色花骨变成了对着我们咧着嘴笑的粉</tspan><tspan x="87" dy="23.2">红色桃花；她把单调、光秃秃的棕色土地变成</tspan><tspan x="87" dy="23.2">了可爱的绿色秧苗。她把银色的种子变成了一</tspan><tspan x="87" dy="23.2">朵金色的油菜花，香味浓郁。</tspan></text><line class="u" x1="77" y1="5966" x2="457" y2="5966"/></g>
<g id="L33"><text class="t"><tspan x="87" y="6033">今天，是星期五。朵朵白云飘浮在空中，天气</tspan><tspan x="87" dy="23.2">十分晴朗。诗人朱熹和叶邵翁一起到郊外寻找</tspan><tspan x="87" dy="23.2">灵感。</tspan></text><line class="u" x1="77" y1="6092.4" x2="457" y2="6092.4"/></g>
<g id="L34"><text class="t"><tspan x="87" y="6159.4">他们走着走着看见了一片田野，田野里种满了</tspan><tspan x="87" dy="23.2">稻谷、油菜花……</tspan></text><line class="u" x1="77" y1="6195.6" x2="457" y2="6195.6"/></g>
<g id="L35"><text class="t"><tspan x="87" y="6262.6">田野旁边是棵非常美丽的桃树，树枝上开满了</tspan><tspan x="87" dy="23.2">桃花，有些还是花骨朵呢！有几只小蜜蜂在桃</tspan><tspan x="87" dy="23.2">花旁边飞来飞去，采花蜜、传花粉。</tspan></text><line class="u" x1="77" y1="6322" x2="457" y2="6322"/></g>
<g id="L36"><text class="t"><tspan x="87" y="6389">在桃花旁边是一片绿油油的草地，草地上点缀</tspan><tspan x="87" dy="23.2">着几棵柳树和几棵月季，可漂亮了。</tspan></text><line class="u" x1="77" y1="6425.2" x2="457" y2="6425.2"/></g>
<g id="L37"><text class="t"><tspan x="87" y="6492.2">草地旁边是一条清澈见底的小溪，小溪里有五</tspan><tspan x="87" dy="23.2">彩斑斓的鹅卵石、小鱼，这些小鱼时而跃出水</tspan><tspan x="87" dy="23.2">面，时而潜入水底。</tspan></text><line class="u" x1="77" y1="6551.6" x2="457" y2="6551.6"/></g>
<g id="L38"><text class="t"><tspan x="87" y="6618.6">小溪旁边是一座座连绵起伏的山，山上有几座</tspan><tspan x="87" dy="23.2">亭子，山间种着一些不知名的小花。还有一个</tspan><tspan x="87" dy="23.2">长方形的运动场地，那时供早起的人们晨练用</tspan><tspan x="87" dy="23.2">的。</tspan></text><line class="u" x1="77" y1="6701.2" x2="457" y2="6701.2"/></g>
<g id="L39"><text class="t r" x="447" y="6768.2">山旁边是几户人家。</text><line class="u" x1="276" y1="6781.2" x2="457" y2="6781.2"/></g>
<g id="L40"><text class="t r" x="447" y="6848.2">天空中，几只燕子在自由的飞来飞去。</text><line class="u" x1="132" y1="6861.2" x2="457" y2="6861.2"/></g>
<g id="L41"><text class="t r" x="447" y="6928.2">啊！多美的景色啊！</text><line class="u" x1="276" y1="6941.2" x2="457" y2="6941.2"/></g>
</g>
</svg>
